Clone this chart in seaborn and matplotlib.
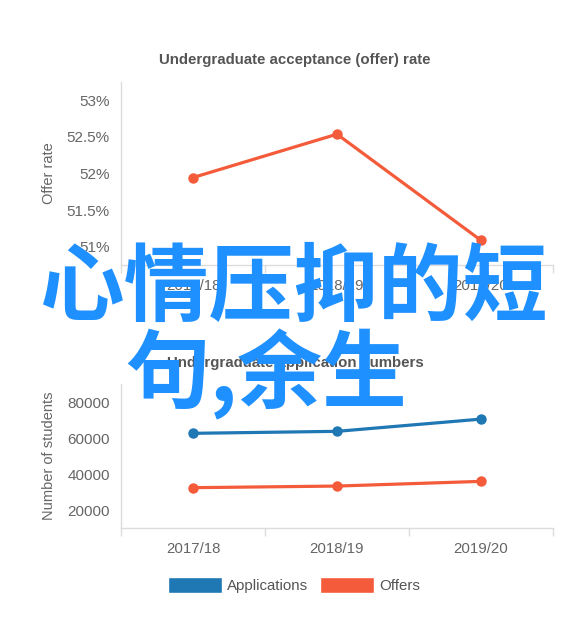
import matplotlib
matplotlib.use("Agg")
import matplotlib.pyplot as plt
from matplotlib.patches import Patch
import seaborn as sns
import pandas as pd

years = ["2017/18", "2018/19", "2019/20"]
offer_rate = [51.945, 52.535, 51.09]
applications = [63000, 64100, 70900]
offers = [32800, 33700, 36300]
rate_ticks = [51, 51.5, 52, 52.5, 53]
rate_labels = ["51%", "51.5%", "52%", "52.5%", "53%"]
count_ticks = [20000, 40000, 60000, 80000]
overlay_lines = ["心情压抑的短", "句,余生"]

blue = "#1f77b4"
red = "#f45b3a"
grid_grey = "#dcdcdc"
text_grey = "#666666"

sns.set_theme(style="white")
plt.rcParams["font.family"] = ["Liberation Sans", "DejaVu Sans"]

fig = plt.figure(figsize=(5.8, 6.35), dpi=100)
ax1 = fig.add_axes([121 / 580, 1 - 265 / 635, 432 / 580, 183 / 635])
ax2 = fig.add_axes([121 / 580, 1 - 528 / 635, 432 / 580, 144 / 635])

rate_df = pd.DataFrame({"year": years, "rate": offer_rate})
sns.lineplot(data=rate_df, x="year", y="rate", ax=ax1, color=red,
             marker="o", markersize=7.5, markeredgewidth=0, linewidth=2.3)

count_df = pd.DataFrame({
    "year": years * 2,
    "students": applications + offers,
    "series": ["Applications"] * 3 + ["Offers"] * 3,
})
sns.lineplot(data=count_df, x="year", y="students", hue="series", ax=ax2,
             palette={"Applications": blue, "Offers": red},
             marker="o", markersize=7.5, markeredgewidth=0, linewidth=2.3,
             legend=False)

ax1.set_ylim(50.755, 53.245)
ax1.set_yticks(rate_ticks)
ax1.set_yticklabels(rate_labels)
ax1.set_ylabel("Offer rate", color=text_grey, fontsize=10.5, labelpad=8)

ax2.set_ylim(10400, 90400)
ax2.set_yticks(count_ticks)
ax2.set_ylabel("Number of students", color=text_grey, fontsize=10.5, labelpad=8)

# titles sit centred on the whole figure, not on the plot area
fig.text(295 / 580, 1 - 60 / 635, "Undergraduate acceptance (offer) rate",
         fontsize=10.8, fontweight="bold", color="#555555", ha="center", va="center")
fig.text(295 / 580, 1 - 363 / 635, "Undergraduate application numbers",
         fontsize=10.8, fontweight="bold", color="#555555", ha="center", va="center")

for ax in (ax1, ax2):
    ax.set_xlim(-0.5, 2.5)
    ax.set_xlabel("")
    ax.set_xticks([0, 1, 2])
    ax.set_xticks([-0.5, 0.5, 1.5, 2.5], minor=True)
    ax.tick_params(axis="x", which="major", length=0, pad=10,
                   labelsize=10.8, labelcolor=text_grey)
    ax.tick_params(axis="x", which="minor", length=6, width=1,
                   color=grid_grey, direction="out", bottom=True)
    ax.tick_params(axis="y", length=0, pad=8, labelsize=11,
                   labelcolor=text_grey)
    for side in ("top", "right"):
        ax.spines[side].set_visible(False)
    for side in ("left", "bottom"):
        ax.spines[side].set_color(grid_grey)
        ax.spines[side].set_linewidth(1)
    ax.grid(False)

handles = [Patch(facecolor=blue, label="Applications"),
           Patch(facecolor=red, label="Offers")]
fig.legend(handles=handles, loc="center", bbox_to_anchor=(294 / 580, 1 - 585 / 635),
           ncol=2, frameon=False, fontsize=10.8, labelcolor="#555555",
           handlelength=3.6, handleheight=1.2, handletextpad=0.35,
           columnspacing=0.8)

cjk = ["Noto Sans CJK SC", "DejaVu Sans"]
fig.text(40 / 580, 1 - 289 / 635, overlay_lines[0], family=cjk, fontsize=61,
         fontweight="bold", color="#1e90ff", ha="left", va="center")
fig.text(125 / 580, 1 - 374 / 635, overlay_lines[1], family=cjk, fontsize=61,
         fontweight="bold", color="#1e90ff", ha="left", va="center")

fig.savefig("out.png", dpi=100)
